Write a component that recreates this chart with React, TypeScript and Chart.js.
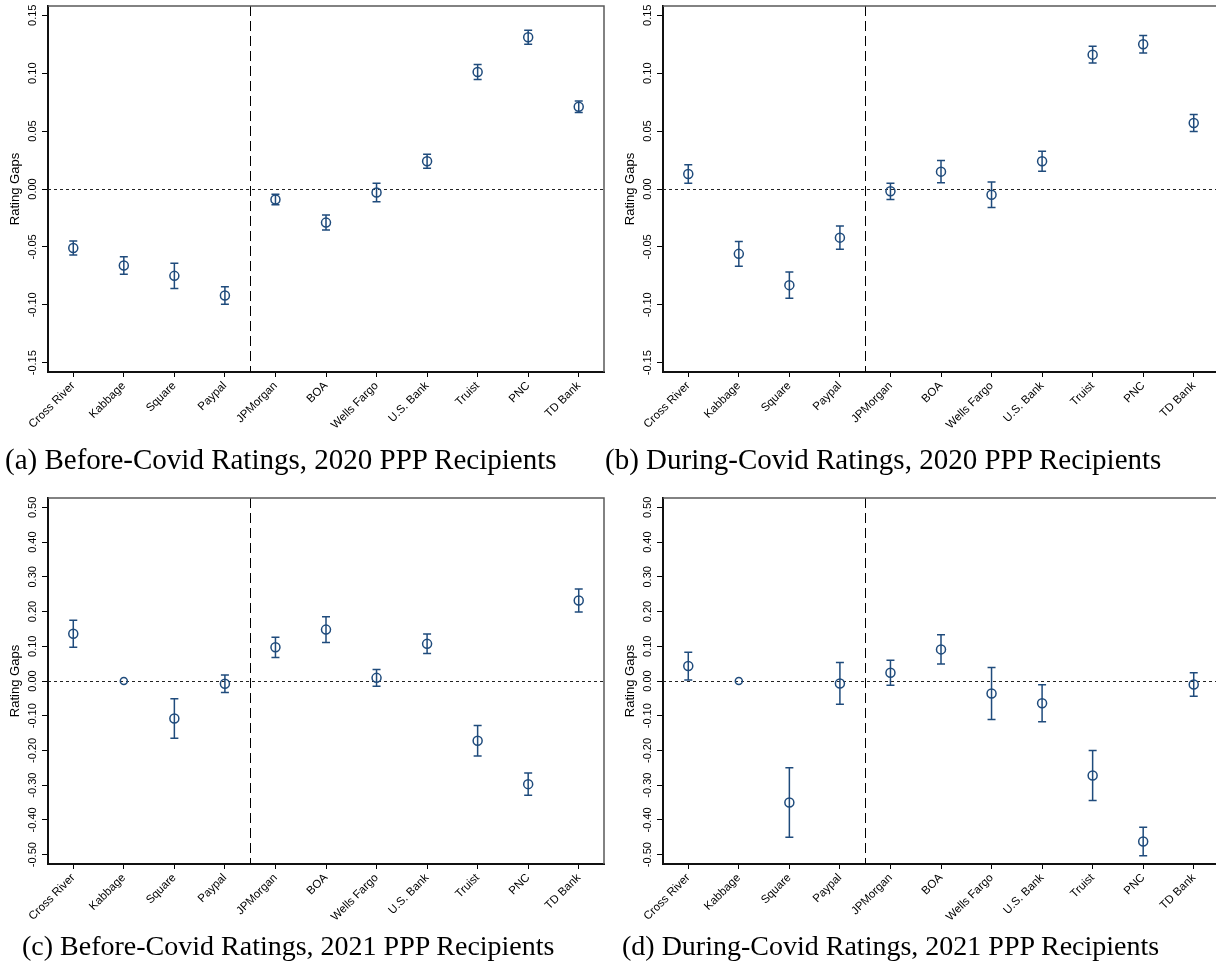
import React, { useEffect, useRef } from "react";
import { Chart, registerables } from "chart.js";

Chart.register(...registerables);

const categories = ["Cross River", "Kabbage", "Square", "Paypal", "JPMorgan", "BOA", "Wells Fargo", "U.S. Bank", "Truist", "PNC", "TD Bank"];

const ticks2020 = [-0.15, -0.1, -0.05, 0, 0.05, 0.1, 0.15];
const ticks2021 = [-0.5, -0.4, -0.3, -0.2, -0.1, 0, 0.1, 0.2, 0.3, 0.4, 0.5];

const beforeCovid2020 = [-0.051, -0.066, -0.075, -0.092, -0.009, -0.029, -0.003, 0.024, 0.101, 0.131, 0.071];
const beforeCovid2020Err = [0.006, 0.0075, 0.011, 0.0075, 0.0045, 0.0065, 0.008, 0.006, 0.0065, 0.006, 0.005];

const duringCovid2020 = [0.013, -0.056, -0.083, -0.042, -0.002, 0.015, -0.005, 0.024, 0.116, 0.125, 0.057];
const duringCovid2020Err = [0.008, 0.0107, 0.0113, 0.01, 0.007, 0.0095, 0.011, 0.0086, 0.0072, 0.0076, 0.0073];

const beforeCovid2021 = [0.136, 0, -0.108, -0.008, 0.097, 0.148, 0.009, 0.107, -0.172, -0.297, 0.232];
const beforeCovid2021Err = [0.039, 0, 0.057, 0.025, 0.029, 0.037, 0.024, 0.028, 0.044, 0.032, 0.033];

const duringCovid2021 = [0.043, 0, -0.35, -0.007, 0.024, 0.091, -0.036, -0.064, -0.272, -0.462, -0.01];
const duringCovid2021Err = [0.04, 0, 0.1, 0.06, 0.036, 0.042, 0.075, 0.053, 0.072, 0.041, 0.034];

const NAVY = "#1f4b7c";
const SANS = '"Liberation Sans", Arial, sans-serif';
const SERIF = '"Liberation Serif", "Times New Roman", serif';

type PanelProps = {
  values: number[];
  errors: number[];
  yTicks: number[];
  yLimit: number;
  left: number;
  top: number;
};

const CW = 610;
const CH = 470;

function Panel({ values, errors, yTicks, yLimit, left, top }: PanelProps) {
  const ref = useRef<HTMLCanvasElement>(null);
  useEffect(() => {
    const canvas = ref.current!;
    const overlay = {
      id: "overlay",
      beforeDatasetsDraw(chart: any) {
        const { ctx, chartArea: a } = chart;
        const x = chart.scales.x;
        const y = chart.scales.y;
        ctx.save();
        // zero reference line
        ctx.strokeStyle = "#222";
        ctx.lineWidth = 1;
        ctx.setLineDash([3, 3]);
        const y0 = Math.round(y.getPixelForValue(0)) + 0.5;
        ctx.beginPath();
        ctx.moveTo(a.left, y0);
        ctx.lineTo(a.right, y0);
        ctx.stroke();
        // fintech / bank divider
        const xd = Math.round((x.getPixelForValue(3) + x.getPixelForValue(4)) / 2) + 0.5;
        ctx.setLineDash([10, 5]);
        ctx.strokeStyle = "#000";
        ctx.beginPath();
        ctx.moveTo(xd, a.top);
        ctx.lineTo(xd, a.bottom);
        ctx.stroke();
        ctx.setLineDash([]);
        // top and right frame
        ctx.strokeStyle = "#5a5a5a";
        ctx.lineWidth = 1.5;
        ctx.beginPath();
        ctx.moveTo(a.left, a.top);
        ctx.lineTo(a.right, a.top);
        ctx.lineTo(a.right, a.bottom);
        ctx.stroke();
        // error bars
        ctx.strokeStyle = NAVY;
        ctx.lineWidth = 1.5;
        values.forEach((v, i) => {
          const e = errors[i];
          if (!e) return;
          const px = x.getPixelForValue(i);
          const lo = y.getPixelForValue(v - e);
          const hi = y.getPixelForValue(v + e);
          ctx.beginPath();
          ctx.moveTo(px, lo);
          ctx.lineTo(px, hi);
          ctx.moveTo(px - 4, lo);
          ctx.lineTo(px + 4, lo);
          ctx.moveTo(px - 4, hi);
          ctx.lineTo(px + 4, hi);
          ctx.stroke();
        });
        ctx.restore();
      },
      afterDraw(chart: any) {
        const { ctx, chartArea: a } = chart;
        const y = chart.scales.y;
        ctx.save();
        ctx.fillStyle = "#000";
        ctx.font = "11px " + SANS;
        ctx.textAlign = "center";
        ctx.textBaseline = "middle";
        y.ticks.forEach((t: any) => {
          const py = y.getPixelForValue(t.value);
          ctx.save();
          ctx.translate(a.left - 15, py);
          ctx.rotate(-Math.PI / 2);
          ctx.fillText(Number(t.value).toFixed(2), 0, 0);
          ctx.restore();
        });
        ctx.restore();
      },
    };

    const chart = new Chart(canvas, {
      type: "line",
      data: {
        labels: categories,
        datasets: [
          {
            data: values,
            showLine: false,
            borderColor: NAVY,
            backgroundColor: "rgba(0,0,0,0)",
            pointBackgroundColor: "rgba(0,0,0,0)",
            pointBorderColor: NAVY,
            pointBorderWidth: 1.5,
            pointRadius: (c: any) => (errors[c.dataIndex] === 0 ? 3.5 : 4.5),
          },
        ],
      },
      options: {
        responsive: false,
        animation: false,
        devicePixelRatio: 1,
        layout: { padding: { left: 0, top: 5, right: 6, bottom: 0 } },
        plugins: { legend: { display: false }, tooltip: { enabled: false } },
        scales: {
          x: {
            type: "category",
            offset: true,
            grid: { offset: false, drawOnChartArea: false, tickLength: 5, color: "#000", lineWidth: 1 },
            border: { display: true, color: "#111", width: 2 },
            ticks: {
              minRotation: 45,
              maxRotation: 45,
              autoSkip: false,
              color: "#000",
              padding: 2,
              font: { family: SANS, size: 11.5 },
            },
            afterFit: (s: any) => {
              s.height = 98;
            },
          },
          y: {
            type: "linear",
            min: -yLimit,
            max: yLimit,
            afterBuildTicks: (s: any) => {
              s.ticks = yTicks.map((v) => ({ value: v }));
            },
            grid: { drawOnChartArea: false, tickLength: 6, color: "#000", lineWidth: 1 },
            border: { display: true, color: "#111", width: 2 },
            ticks: { display: false },
            title: {
              display: true,
              text: "Rating Gaps",
              color: "#000",
              font: { family: SANS, size: 13 },
              padding: { top: 8, bottom: 0 },
            },
            afterFit: (s: any) => {
              s.width = 48;
            },
          },
        },
      },
      plugins: [overlay],
    } as any);
    return () => chart.destroy();
  }, [values, errors, yTicks, yLimit]);

  return (
    <canvas
      ref={ref}
      width={CW}
      height={CH}
      style={{ position: "absolute", left, top, width: CW, height: CH }}
    />
  );
}

function Caption({ text, left, top, size }: { text: string; left: number; top: number; size: number }) {
  return (
    <div
      style={{
        position: "absolute",
        left,
        top,
        fontFamily: SERIF,
        fontSize: size,
        lineHeight: 1,
        whiteSpace: "nowrap",
        color: "#000",
      }}
    >
      {text}
    </div>
  );
}

export default function App() {
  return (
    <div
      style={{
        position: "absolute",
        left: 0,
        top: 0,
        width: 1216,
        height: 970,
        overflow: "hidden",
        background: "#fff",
      }}
    >
      <Panel values={beforeCovid2020} errors={beforeCovid2020Err} yTicks={ticks2020} yLimit={0.158} left={0} top={0} />
      <Panel values={duringCovid2020} errors={duringCovid2020Err} yTicks={ticks2020} yLimit={0.158} left={615} top={0} />
      <Panel values={beforeCovid2021} errors={beforeCovid2021Err} yTicks={ticks2021} yLimit={0.527} left={0} top={492} />
      <Panel values={duringCovid2021} errors={duringCovid2021Err} yTicks={ticks2021} yLimit={0.527} left={615} top={492} />
      <Caption text="(a) Before-Covid Ratings, 2020 PPP Recipients" left={5} top={445} size={29} />
      <Caption text="(b) During-Covid Ratings, 2020 PPP Recipients" left={605} top={445} size={29} />
      <Caption text="(c) Before-Covid Ratings, 2021 PPP Recipients" left={22} top={932} size={28} />
      <Caption text="(d) During-Covid Ratings, 2021 PPP Recipients" left={622} top={932} size={28} />
    </div>
  );
}
